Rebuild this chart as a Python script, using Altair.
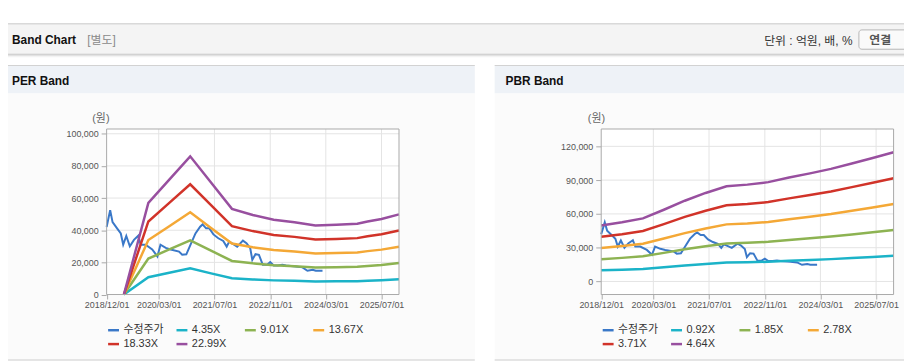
import altair as alt
import pandas as pd

FONT = "Liberation Sans, Noto Sans CJK KR"

# ---------------- data ----------------
price_dates = [
    "2018/12/01", "2019/01/01", "2019/01/22", "2019/03/04", "2019/04/04", "2019/04/25",
    "2019/05/22", "2019/06/22", "2019/07/28", "2019/09/04", "2019/09/25", "2019/11/07",
    "2020/01/04", "2020/02/18", "2020/03/16", "2020/05/01", "2020/06/13", "2020/08/25",
    "2020/09/22", "2020/10/28", "2020/12/04", "2021/01/16", "2021/02/26", "2021/03/19",
    "2021/04/19", "2021/05/16", "2021/06/22", "2021/08/04", "2021/09/16", "2021/10/16",
    "2021/11/07", "2021/12/13", "2022/01/16", "2022/03/07", "2022/04/07", "2022/05/10",
    "2022/05/28", "2022/06/25", "2022/07/25", "2022/08/28", "2022/10/04", "2022/11/01",
    "2022/12/01", "2023/01/07", "2023/02/15", "2023/03/19", "2023/06/13", "2023/08/10",
    "2023/09/22", "2023/11/07", "2023/12/04", "2024/02/01",
]
price_values = [
    42000, 52500, 45000, 41000, 38000, 31000,
    36400, 30000, 34000, 36600, 31000, 31000,
    28000, 23700, 31000, 29000, 28000, 26700,
    24700, 25000, 31000, 38000, 42200, 43600,
    41200, 41200, 37400, 35000, 33300, 29800,
    32900, 31300, 29800, 33500, 31900, 28800,
    21600, 25100, 24700, 18500, 18500, 20200,
    18100, 18100, 18500, 18100, 17500, 16900,
    14800, 15400, 14800, 14800,
]

per_labels = ["4.35X", "9.01X", "13.67X", "18.33X", "22.99X"]
per_band_dates = ["2019/05/01", "2019/12/01", "2020/06/01", "2020/12/01", "2021/06/01",
                  "2021/12/01", "2022/06/01", "2022/12/01", "2023/06/01", "2023/12/01",
                  "2024/06/01", "2024/12/01", "2025/03/01", "2025/07/01", "2025/12/01"]
per_435 = [0, 10788, 13529, 16269, 13181, 10083, 9366, 8800, 8513, 8135, 8213, 8326, 8591, 8891, 9440]
per_901 = [0, 22345, 28021, 33697, 27300, 20885, 19399, 18227, 17633, 16849, 17011, 17245, 17795, 18416, 19552]
per_1367 = [0, 33902, 42514, 51126, 41420, 31687, 29432, 27654, 26752, 25563, 25809, 26164, 26998, 27941, 29664]
per_1833 = [0, 45458, 57006, 68554, 55540, 42489, 39464, 37082, 35872, 34277, 34607, 35084, 36202, 37467, 39776]
per_2299 = [0, 57015, 71499, 85983, 69660, 53291, 49497, 46509, 44991, 42991, 43405, 44003, 45405, 46992, 49888]

pbr_labels = ["0.92X", "1.85X", "2.78X", "3.71X", "4.64X"]
pbr_band_dates = ["2018/12/01", "2019/06/01", "2019/12/01", "2020/06/01", "2020/12/01",
                  "2021/06/01", "2021/12/01", "2022/06/01", "2022/12/01", "2023/06/01",
                  "2023/12/01", "2024/06/01", "2024/12/01", "2025/06/01", "2025/12/01"]
pbr_092 = [9853, 10410, 11104, 12630, 14216, 15585, 16774, 17051, 17488, 18301, 19035, 19828, 20779, 21751, 22742]
pbr_185 = [19814, 20933, 22330, 25397, 28586, 31339, 33731, 34288, 35167, 36800, 38277, 39871, 41784, 43738, 45732]
pbr_278 = [29774, 31456, 33555, 38164, 42957, 47093, 50688, 51525, 52845, 55300, 57518, 59915, 62789, 65725, 68722]
pbr_371 = [39734, 41979, 44780, 50931, 57327, 62847, 67644, 68761, 70523, 73799, 76760, 79958, 83794, 87712, 91711]
pbr_464 = [49694, 52502, 56005, 63698, 71697, 78602, 84601, 85998, 88202, 92299, 96002, 100001, 104799, 109699, 114701]

x_ticks = ["2018/12/01", "2020/03/01", "2021/07/01", "2022/11/01", "2024/03/01", "2025/07/01"]
per_y_ticks = [0, 20000, 40000, 60000, 80000, 100000]
pbr_y_ticks = [0, 30000, 60000, 90000, 120000]

COLORS = ["#3a78c8", "#1bb3c8", "#8db352", "#f4a836", "#d13329", "#984f9f"]
PRICE_NAME = "수정주가"

# ---------------- layout constants ----------------
W, H = 904, 356
Y_TOP, Y_BOT = 120.5, 287.5
GRID = "#e4e4e4"
FRAME = "#a9a9a9"


def dt(s):
    y, m, d = [int(v) for v in s.split("/")]
    return alt.DateTime(year=y, month=m, date=d)


def long_df(dates, labels, series):
    rows = []
    for name, vals in zip(labels, series):
        for d, v in zip(dates, vals):
            rows.append({"date": d, "value": v, "series": name})
    return pd.DataFrame(rows)


price_df = pd.DataFrame({"date": price_dates, "value": price_values, "series": PRICE_NAME})
per_df = long_df(per_band_dates, per_labels, [per_435, per_901, per_1367, per_1833, per_2299])
pbr_df = long_df(pbr_band_dates, pbr_labels, [pbr_092, pbr_185, pbr_278, pbr_371, pbr_464])


def panel(band_df, labels, x_rng, y_dom, y_ticks, y_grid, y_axis_off):
    xs = alt.Scale(type="time", domain=[dt("2018/12/01"), dt("2025/12/01")], range=x_rng, nice=False)
    ys = alt.Scale(domain=y_dom, range=[Y_BOT, Y_TOP], nice=False, zero=False)
    xa = alt.Axis(values=[dt(t) for t in x_ticks], format="%Y/%m/%d", orient="bottom",
                  offset=Y_BOT - 0.5 - H, grid=False, domain=False, tickSize=5,
                  tickColor=FRAME, labelFont=FONT, labelFontSize=9, labelColor="#555",
                  labelPadding=2, labelFlush=False, labelOverlap=False, title=None, zindex=2)
    ya = alt.Axis(values=y_ticks, format=",d", orient="left", offset=y_axis_off,
                  grid=False, domain=False, tickSize=5, tickColor=FRAME, labelFont=FONT,
                  labelFontSize=9, labelColor="#555", labelPadding=3, title=None, zindex=2)
    cs = alt.Scale(domain=[PRICE_NAME] + labels, range=COLORS)
    leg = alt.Legend(orient="none", legendX=x_rng[0], legendY=316.5, direction="horizontal",
                     columns=4, title=None, symbolType="stroke", symbolSize=121,
                     symbolStrokeWidth=2.5, labelFont=FONT, labelFontSize=11,
                     labelColor="#333", gridAlign="all", columnPadding=7, rowPadding=2,
                     padding=0, labelOffset=3, zindex=2)
    X = alt.X("date:T", scale=xs, axis=xa)
    Y = alt.Y("value:Q", scale=ys, axis=ya)
    C = alt.Color("series:N", scale=cs, legend=leg)
    vg = alt.Chart(pd.DataFrame({"date": x_ticks[1:]})).mark_rule(
        color=GRID, strokeWidth=1).encode(x=X, y=alt.value(Y_TOP), y2=alt.value(Y_BOT))
    hg = alt.Chart(pd.DataFrame({"value": y_grid})).mark_rule(
        color=GRID, strokeWidth=1).encode(y=Y, x=alt.value(x_rng[0]), x2=alt.value(x_rng[1]))
    pl = alt.Chart(price_df).mark_line(strokeWidth=2).encode(x=X, y=Y, color=C)
    bl = alt.Chart(band_df).mark_line(strokeWidth=2.5).encode(x=X, y=Y, color=C)
    return alt.layer(vg, hg, pl, bl)


base = alt.Chart(alt.Data(values=[{"k": 1}]))


def box(x, x2, y, y2, fill, stroke=None, r=0, sw=1):
    kw = dict(fill=fill)
    if stroke:
        kw["stroke"] = stroke
        kw["strokeWidth"] = sw
    if r:
        kw["cornerRadius"] = r
    return base.mark_rect(**kw).encode(x=alt.value(x), x2=alt.value(x2),
                                        y=alt.value(y), y2=alt.value(y2))


def txt(s, x, y, size=12, color="#333", weight="normal", align="left"):
    return base.mark_text(text=s, font=FONT, fontSize=size, color=color, fontWeight=weight,
                          align=align, baseline="middle").encode(x=alt.value(x), y=alt.value(y))


LX = [99.5, 394.5]
RX = [598.5, 893.5]

decos = [
    box(0, W, 14, 15, "#b3b3b3"),
    box(0, W, 15, 44.5, "#f4f4f4"),
    box(0, W, 44.5, 45.5, "#bdbdbd"),
    box(0, W, 45.5, 47, "#e2e2e2"),
    box(0, W, 47, 48, "#f2f2f2"),
    txt("Band Chart", 4, 30.3, 12, "#111", "bold"),
    txt("[별도]", 80, 31, 12, "#8a8a8a"),
    txt("단위 : 억원, 배, %", 852, 31.5, 12, "#333", align="right"),
    box(858.5, 910, 20.5, 40, "#fafafa", "#b5b5b5", 3),
    txt("연결", 880, 31.2, 12, "#555", "bold", "center"),
    # PER panel
    box(0, 471, 56, 57, "#d2d2d2"),
    box(0, 471, 57, 84.7, "#eef2f7"),
    box(0, 471, 84.7, 353, "#fbfbfb"),
    box(0, 471, 353, 354, "#cccccc"),
    txt("PER Band", 4, 72.5, 12, "#111", "bold"),
    txt("(원)", 93.7, 110, 11, "#666", align="center"),
    box(LX[0], LX[1], Y_TOP, Y_BOT, "#ffffff"),
    # PBR panel
    box(491, W, 56, 57, "#d2d2d2"),
    box(491, W, 57, 84.7, "#eef2f7"),
    box(491, W, 84.7, 353, "#fbfbfb"),
    box(491, W, 353, 354, "#cccccc"),
    txt("PBR Band", 502, 72.5, 12, "#111", "bold"),
    txt("(원)", 593.7, 110, 11, "#666", align="center"),
    box(RX[0], RX[1], Y_TOP, Y_BOT, "#ffffff"),
]

left = panel(per_df, per_labels, LX, [0, 102960], per_y_ticks, per_y_ticks[1:], -99)
right = panel(pbr_df, pbr_labels, RX, [-11620, 135400], pbr_y_ticks, pbr_y_ticks, -598)

frames = [
    box(LX[0], LX[1], Y_TOP, Y_BOT, "transparent", FRAME),
    box(RX[0], RX[1], Y_TOP, Y_BOT, "transparent", FRAME),
]

chart = alt.layer(*decos, left, right, *frames).resolve_scale(
    x="independent", y="independent", color="independent"
).properties(
    width=W, height=H, padding=0, autosize=alt.AutoSizeParams(type="none"), background="white"
).configure_view(stroke=None)

chart.save("out.html", embed_options={"renderer": "svg", "actions": False})
